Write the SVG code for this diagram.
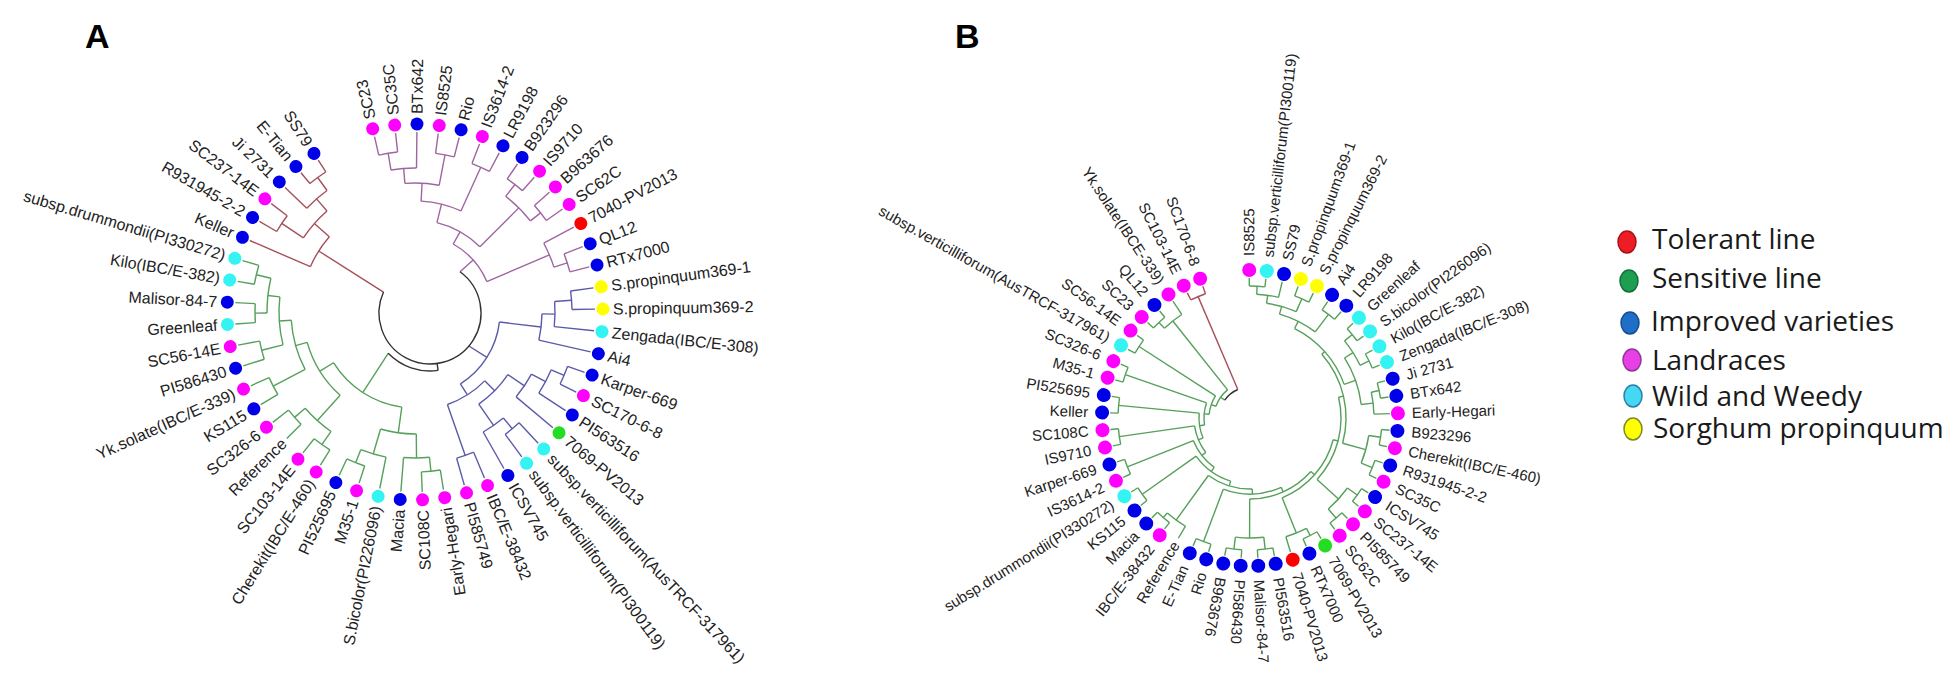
<svg xmlns="http://www.w3.org/2000/svg" width="1950" height="689" viewBox="0 0 1950 689">
<style>
.t text{font-family:"Liberation Sans",Arial,sans-serif;font-size:16px;fill:#222}
.tb text{font-size:15px}
.e{text-anchor:end}
.m{fill:#ff00ff}.b{fill:#0000e8}.c{fill:#33f3f3}.y{fill:#ffff00}.r{fill:#ff0000}.g{fill:#22dd22}
.tr{fill:none;stroke-width:1.4}
.pu{stroke:#a064a0}.rd{stroke:#a5505a}.bl{stroke:#5a5aaa}.gr{stroke:#55a05a}.bk{stroke:#333}
.pl{font-family:"Liberation Sans",Arial,sans-serif;font-size:34px;font-weight:bold;fill:#000}
.lg{font-family:"Open Sans","Liberation Sans",sans-serif;font-size:28px;fill:#1a1a1a}
</style>
<rect width="1950" height="689" fill="#fff"/>
<text class="pl" x="85" y="48">A</text>
<text class="pl" x="955" y="48">B</text>

<g id="connectors">
<g id="connectors-a" transform="translate(415 312)">
<g class="tr pu">
<circle r="161" pathLength="360" stroke-dasharray="6.8 720" transform="rotate(-103)"/>
<line x1="161" x2="180" transform="rotate(-103)"/><line x1="161" x2="180" transform="rotate(-96.2)"/>
<circle r="144" pathLength="360" stroke-dasharray="10.2 720" transform="rotate(-99.6)"/>
<line x1="144" x2="161" transform="rotate(-99.6)"/><line x1="144" x2="180" transform="rotate(-89.4)"/>
<circle r="160" pathLength="360" stroke-dasharray="6.8 720" transform="rotate(-82.6)"/>
<line x1="160" x2="180" transform="rotate(-82.6)"/><line x1="160" x2="180" transform="rotate(-75.8)"/>
<circle r="129" pathLength="360" stroke-dasharray="15.3 720" transform="rotate(-94.5)"/>
<line x1="129" x2="144" transform="rotate(-94.5)"/><line x1="129" x2="160" transform="rotate(-79.2)"/>
<circle r="159" pathLength="360" stroke-dasharray="6.9 720" transform="rotate(-69)"/>
<line x1="159" x2="180" transform="rotate(-69)"/><line x1="159" x2="180" transform="rotate(-62.1)"/>
<circle r="111" pathLength="360" stroke-dasharray="21.3 720" transform="rotate(-86.85)"/>
<line x1="111" x2="129" transform="rotate(-86.85)"/><line x1="111" x2="159" transform="rotate(-65.55)"/>
<circle r="162" pathLength="360" stroke-dasharray="6.8 720" transform="rotate(-55.3)"/>
<line x1="162" x2="180" transform="rotate(-55.3)"/><line x1="162" x2="180" transform="rotate(-48.5)"/>
<circle r="160" pathLength="360" stroke-dasharray="6.8 720" transform="rotate(-41.7)"/>
<line x1="160" x2="180" transform="rotate(-41.7)"/><line x1="160" x2="180" transform="rotate(-34.9)"/>
<circle r="147" pathLength="360" stroke-dasharray="13.6 720" transform="rotate(-51.9)"/>
<line x1="147" x2="162" transform="rotate(-51.9)"/><line x1="147" x2="160" transform="rotate(-38.3)"/>
<circle r="92" pathLength="360" stroke-dasharray="31.1 720" transform="rotate(-76.2)"/>
<line x1="92" x2="111" transform="rotate(-76.2)"/><line x1="92" x2="147" transform="rotate(-45.1)"/>
<circle r="160" pathLength="360" stroke-dasharray="6.8 720" transform="rotate(-21.3)"/>
<line x1="160" x2="180" transform="rotate(-21.3)"/><line x1="160" x2="180" transform="rotate(-14.5)"/>
<circle r="146" pathLength="360" stroke-dasharray="10.2 720" transform="rotate(-28.1)"/>
<line x1="146" x2="180" transform="rotate(-28.1)"/><line x1="146" x2="160" transform="rotate(-17.9)"/>
<circle r="78" pathLength="360" stroke-dasharray="37.65 720" transform="rotate(-60.65)"/>
<line x1="78" x2="92" transform="rotate(-60.65)"/><line x1="78" x2="146" transform="rotate(-23)"/>
<line x1="60.4" x2="78" transform="rotate(-41.8)"/>
</g>
<g class="tr rd">
<circle r="166" pathLength="360" stroke-dasharray="6.8 720" transform="rotate(230.7)"/>
<line x1="166" x2="180" transform="rotate(230.7)"/><line x1="166" x2="180" transform="rotate(237.5)"/>
<circle r="150" pathLength="360" stroke-dasharray="10.3 720" transform="rotate(223.8)"/>
<line x1="150" x2="166" transform="rotate(234.1)"/><line x1="150" x2="180" transform="rotate(223.8)"/>
<circle r="160" pathLength="360" stroke-dasharray="6.8 720" transform="rotate(210.2)"/>
<line x1="160" x2="180" transform="rotate(210.2)"/><line x1="160" x2="180" transform="rotate(217)"/>
<circle r="134" pathLength="360" stroke-dasharray="15.35 720" transform="rotate(213.6)"/>
<line x1="134" x2="150" transform="rotate(228.95)"/><line x1="134" x2="160" transform="rotate(213.6)"/>
<circle r="114" pathLength="360" stroke-dasharray="17.9 720" transform="rotate(203.4)"/>
<line x1="114" x2="134" transform="rotate(221.3)"/><line x1="114" x2="180" transform="rotate(203.4)"/>
<line x1="37.3" x2="114" transform="rotate(212.35)"/>
</g>
<g class="tr bl">
<circle r="157" pathLength="360" stroke-dasharray="6.8 720" transform="rotate(-7.7)"/>
<line x1="157" x2="180" transform="rotate(-7.7)"/><line x1="157" x2="180" transform="rotate(-0.9)"/>
<circle r="140" pathLength="360" stroke-dasharray="10.3 720" transform="rotate(-4.3)"/>
<line x1="140" x2="157" transform="rotate(-4.3)"/><line x1="140" x2="180" transform="rotate(6)"/>
<circle r="127" pathLength="360" stroke-dasharray="11.95 720" transform="rotate(0.85)"/>
<line x1="127" x2="140" transform="rotate(0.85)"/><line x1="127" x2="180" transform="rotate(12.8)"/>
<circle r="162" pathLength="360" stroke-dasharray="6.8 720" transform="rotate(19.6)"/>
<line x1="162" x2="180" transform="rotate(19.6)"/><line x1="162" x2="180" transform="rotate(26.4)"/>
<circle r="148" pathLength="360" stroke-dasharray="10.2 720" transform="rotate(23)"/>
<line x1="148" x2="162" transform="rotate(23)"/><line x1="148" x2="180" transform="rotate(33.2)"/>
<circle r="132" pathLength="360" stroke-dasharray="11.9 720" transform="rotate(28.1)"/>
<line x1="132" x2="148" transform="rotate(28.1)"/><line x1="132" x2="180" transform="rotate(40)"/>
<circle r="152" pathLength="360" stroke-dasharray="6.8 720" transform="rotate(46.8)"/>
<line x1="152" x2="180" transform="rotate(46.8)"/><line x1="152" x2="180" transform="rotate(53.6)"/>
<circle r="138" pathLength="360" stroke-dasharray="10.2 720" transform="rotate(50.2)"/>
<line x1="138" x2="152" transform="rotate(50.2)"/><line x1="138" x2="180" transform="rotate(60.4)"/>
<circle r="112" pathLength="360" stroke-dasharray="21.3 720" transform="rotate(34)"/>
<line x1="112" x2="132" transform="rotate(34)"/><line x1="112" x2="138" transform="rotate(55.3)"/>
<circle r="152" pathLength="360" stroke-dasharray="6.8 720" transform="rotate(67.3)"/>
<line x1="152" x2="180" transform="rotate(67.3)"/><line x1="152" x2="180" transform="rotate(74.1)"/>
<circle r="98" pathLength="360" stroke-dasharray="26.05 720" transform="rotate(44.65)"/>
<line x1="98" x2="112" transform="rotate(44.65)"/><line x1="98" x2="152" transform="rotate(70.7)"/>
<circle r="85" pathLength="360" stroke-dasharray="50.9 720" transform="rotate(6.8)"/>
<line x1="85" x2="127" transform="rotate(6.8)"/><line x1="85" x2="98" transform="rotate(57.7)"/>
<line x1="63.7" x2="85" transform="rotate(32.25)"/>
</g>
<g class="tr gr">
<circle r="163" pathLength="360" stroke-dasharray="6.8 720" transform="rotate(189.8)"/>
<line x1="163" x2="180" transform="rotate(189.8)"/><line x1="163" x2="180" transform="rotate(196.6)"/>
<circle r="160" pathLength="360" stroke-dasharray="6.8 720" transform="rotate(176.2)"/>
<line x1="160" x2="180" transform="rotate(176.2)"/><line x1="160" x2="180" transform="rotate(183)"/>
<circle r="148" pathLength="360" stroke-dasharray="13.6 720" transform="rotate(179.6)"/>
<line x1="148" x2="163" transform="rotate(193.2)"/><line x1="148" x2="160" transform="rotate(179.6)"/>
<circle r="158" pathLength="360" stroke-dasharray="6.8 720" transform="rotate(162.6)"/>
<line x1="158" x2="180" transform="rotate(162.6)"/><line x1="158" x2="180" transform="rotate(169.4)"/>
<circle r="136" pathLength="360" stroke-dasharray="20.4 720" transform="rotate(166)"/>
<line x1="136" x2="148" transform="rotate(186.4)"/><line x1="136" x2="158" transform="rotate(166)"/>
<circle r="160" pathLength="360" stroke-dasharray="6.8 720" transform="rotate(149)"/>
<line x1="160" x2="180" transform="rotate(149)"/><line x1="160" x2="180" transform="rotate(155.8)"/>
<circle r="124" pathLength="360" stroke-dasharray="23.8 720" transform="rotate(152.4)"/>
<line x1="124" x2="136" transform="rotate(176.2)"/><line x1="124" x2="160" transform="rotate(152.4)"/>
<circle r="160" pathLength="360" stroke-dasharray="6.8 720" transform="rotate(135.4)"/>
<line x1="160" x2="180" transform="rotate(135.4)"/><line x1="160" x2="180" transform="rotate(142.2)"/>
<circle r="162" pathLength="360" stroke-dasharray="6.8 720" transform="rotate(121.7)"/>
<line x1="162" x2="180" transform="rotate(121.7)"/><line x1="162" x2="180" transform="rotate(128.5)"/>
<circle r="146" pathLength="360" stroke-dasharray="13.7 720" transform="rotate(125.1)"/>
<line x1="146" x2="160" transform="rotate(138.8)"/><line x1="146" x2="162" transform="rotate(125.1)"/>
<circle r="112" pathLength="360" stroke-dasharray="32.35 720" transform="rotate(131.95)"/>
<line x1="112" x2="124" transform="rotate(164.3)"/><line x1="112" x2="146" transform="rotate(131.95)"/>
<circle r="162" pathLength="360" stroke-dasharray="6.8 720" transform="rotate(108.1)"/>
<line x1="162" x2="180" transform="rotate(108.1)"/><line x1="162" x2="180" transform="rotate(114.9)"/>
<circle r="148" pathLength="360" stroke-dasharray="10.2 720" transform="rotate(101.3)"/>
<line x1="148" x2="162" transform="rotate(111.5)"/><line x1="148" x2="180" transform="rotate(101.3)"/>
<circle r="160" pathLength="360" stroke-dasharray="6.8 720" transform="rotate(80.9)"/>
<line x1="160" x2="180" transform="rotate(80.9)"/><line x1="160" x2="180" transform="rotate(87.7)"/>
<circle r="146" pathLength="360" stroke-dasharray="10.2 720" transform="rotate(84.3)"/>
<line x1="146" x2="180" transform="rotate(94.5)"/><line x1="146" x2="160" transform="rotate(84.3)"/>
<circle r="122" pathLength="360" stroke-dasharray="17 720" transform="rotate(89.4)"/>
<line x1="122" x2="148" transform="rotate(106.4)"/><line x1="122" x2="146" transform="rotate(89.4)"/>
<circle r="96" pathLength="360" stroke-dasharray="50.2 720" transform="rotate(97.9)"/>
<line x1="96" x2="112" transform="rotate(148.1)"/><line x1="96" x2="122" transform="rotate(97.9)"/>
<line x1="49.2" x2="96" transform="rotate(123)"/>
</g>
</g>
<g id="connectors-a-root" class="tr bk">
<path d="M383.5,292 A51,51 0 1 0 460,271.7"/>
<path d="M388.2,353.3 A58,58 0 0 0 438.1,370.4"/>
<line x1="437.1" y1="363.5" x2="438.1" y2="370.4"/>
</g>

<g id="connectors-b" transform="translate(1250 418)">
<g class="tr gr">
<circle r="132" pathLength="360" stroke-dasharray="6.8 720" transform="rotate(-90.3)"/>
<line x1="132" x2="140" transform="rotate(-90.3)"/><line x1="132" x2="140" transform="rotate(-83.5)"/>
<circle r="124" pathLength="360" stroke-dasharray="10.2 720" transform="rotate(-86.9)"/>
<line x1="124" x2="132" transform="rotate(-86.9)"/><line x1="124" x2="140" transform="rotate(-76.7)"/>
<circle r="130" pathLength="360" stroke-dasharray="6.8 720" transform="rotate(-69.9)"/>
<line x1="130" x2="140" transform="rotate(-69.9)"/><line x1="130" x2="140" transform="rotate(-63.1)"/>
<circle r="116" pathLength="360" stroke-dasharray="15.3 720" transform="rotate(-81.8)"/>
<line x1="116" x2="124" transform="rotate(-81.8)"/><line x1="116" x2="130" transform="rotate(-66.5)"/>
<circle r="130" pathLength="360" stroke-dasharray="6.9 720" transform="rotate(-56.3)"/>
<line x1="130" x2="140" transform="rotate(-56.3)"/><line x1="130" x2="140" transform="rotate(-49.4)"/>
<circle r="108" pathLength="360" stroke-dasharray="21.3 720" transform="rotate(-74.15)"/>
<line x1="108" x2="116" transform="rotate(-74.15)"/><line x1="108" x2="130" transform="rotate(-52.85)"/>
<circle r="132" pathLength="360" stroke-dasharray="6.8 720" transform="rotate(-42.6)"/>
<line x1="132" x2="140" transform="rotate(-42.6)"/><line x1="132" x2="140" transform="rotate(-35.8)"/>
<circle r="132" pathLength="360" stroke-dasharray="6.8 720" transform="rotate(-29)"/>
<line x1="132" x2="140" transform="rotate(-29)"/><line x1="132" x2="140" transform="rotate(-22.2)"/>
<circle r="122" pathLength="360" stroke-dasharray="13.6 720" transform="rotate(-39.2)"/>
<line x1="122" x2="132" transform="rotate(-39.2)"/><line x1="122" x2="132" transform="rotate(-25.6)"/>
<circle r="132" pathLength="360" stroke-dasharray="6.8 720" transform="rotate(-15.4)"/>
<line x1="132" x2="140" transform="rotate(-15.4)"/><line x1="132" x2="140" transform="rotate(-8.6)"/>
<circle r="124" pathLength="360" stroke-dasharray="10.2 720" transform="rotate(-12)"/>
<line x1="124" x2="132" transform="rotate(-12)"/><line x1="124" x2="140" transform="rotate(-1.8)"/>
<circle r="112" pathLength="360" stroke-dasharray="25.5 720" transform="rotate(-32.4)"/>
<line x1="112" x2="122" transform="rotate(-32.4)"/><line x1="112" x2="124" transform="rotate(-6.9)"/>
<circle r="100" pathLength="360" stroke-dasharray="43.85 720" transform="rotate(-63.5)"/>
<line x1="100" x2="108" transform="rotate(-63.5)"/><line x1="100" x2="112" transform="rotate(-19.65)"/>
<circle r="132" pathLength="360" stroke-dasharray="6.8 720" transform="rotate(5)"/>
<line x1="132" x2="140" transform="rotate(5)"/><line x1="132" x2="140" transform="rotate(11.8)"/>
<circle r="132" pathLength="360" stroke-dasharray="6.8 720" transform="rotate(18.7)"/>
<line x1="132" x2="140" transform="rotate(18.7)"/><line x1="132" x2="140" transform="rotate(25.5)"/>
<circle r="120" pathLength="360" stroke-dasharray="13.7 720" transform="rotate(8.4)"/>
<line x1="120" x2="132" transform="rotate(8.4)"/><line x1="120" x2="132" transform="rotate(22.1)"/>
<circle r="132" pathLength="360" stroke-dasharray="6.8 720" transform="rotate(32.3)"/>
<line x1="132" x2="140" transform="rotate(32.3)"/><line x1="132" x2="140" transform="rotate(39.1)"/>
<circle r="132" pathLength="360" stroke-dasharray="6.8 720" transform="rotate(45.9)"/>
<line x1="132" x2="140" transform="rotate(45.9)"/><line x1="132" x2="140" transform="rotate(52.7)"/>
<circle r="120" pathLength="360" stroke-dasharray="13.6 720" transform="rotate(35.7)"/>
<line x1="120" x2="132" transform="rotate(35.7)"/><line x1="120" x2="132" transform="rotate(49.3)"/>
<circle r="132" pathLength="360" stroke-dasharray="6.8 720" transform="rotate(59.5)"/>
<line x1="132" x2="140" transform="rotate(59.5)"/><line x1="132" x2="140" transform="rotate(66.3)"/>
<circle r="124" pathLength="360" stroke-dasharray="10.3 720" transform="rotate(62.9)"/>
<line x1="124" x2="132" transform="rotate(62.9)"/><line x1="124" x2="140" transform="rotate(73.2)"/>
<circle r="132" pathLength="360" stroke-dasharray="6.8 720" transform="rotate(80)"/>
<line x1="132" x2="140" transform="rotate(80)"/><line x1="132" x2="140" transform="rotate(86.8)"/>
<circle r="132" pathLength="360" stroke-dasharray="6.8 720" transform="rotate(93.6)"/>
<line x1="132" x2="140" transform="rotate(93.6)"/><line x1="132" x2="140" transform="rotate(100.4)"/>
<circle r="120" pathLength="360" stroke-dasharray="13.6 720" transform="rotate(83.4)"/>
<line x1="120" x2="132" transform="rotate(83.4)"/><line x1="120" x2="132" transform="rotate(97)"/>
<circle r="132" pathLength="360" stroke-dasharray="6.8 720" transform="rotate(107.2)"/>
<line x1="132" x2="140" transform="rotate(107.2)"/><line x1="132" x2="140" transform="rotate(114)"/>
<circle r="96" pathLength="360" stroke-dasharray="56.85 720" transform="rotate(-41.6)"/>
<line x1="96" x2="100" transform="rotate(-41.6)"/><line x1="96" x2="120" transform="rotate(15.25)"/>
<circle r="91" pathLength="360" stroke-dasharray="55.7 720" transform="rotate(-13.2)"/>
<line x1="91" x2="96" transform="rotate(-13.2)"/><line x1="91" x2="120" transform="rotate(42.5)"/>
<circle r="86" pathLength="360" stroke-dasharray="53.4 720" transform="rotate(14.65)"/>
<line x1="86" x2="91" transform="rotate(14.65)"/><line x1="86" x2="124" transform="rotate(68.05)"/>
<circle r="81" pathLength="360" stroke-dasharray="48.85 720" transform="rotate(41.35)"/>
<line x1="81" x2="86" transform="rotate(41.35)"/><line x1="81" x2="120" transform="rotate(90.2)"/>
<circle r="76" pathLength="360" stroke-dasharray="44.8 720" transform="rotate(65.8)"/>
<line x1="76" x2="81" transform="rotate(65.8)"/><line x1="76" x2="132" transform="rotate(110.6)"/>
<circle r="132" pathLength="360" stroke-dasharray="6.9 720" transform="rotate(127.6)"/>
<line x1="132" x2="140" transform="rotate(127.6)"/><line x1="132" x2="140" transform="rotate(134.5)"/>
<circle r="126" pathLength="360" stroke-dasharray="10.25 720" transform="rotate(120.8)"/>
<line x1="126" x2="140" transform="rotate(120.8)"/><line x1="126" x2="132" transform="rotate(131.05)"/>
<circle r="71" pathLength="360" stroke-dasharray="37.7 720" transform="rotate(88.2)"/>
<line x1="71" x2="76" transform="rotate(88.2)"/><line x1="71" x2="126" transform="rotate(125.9)"/>
<circle r="132" pathLength="360" stroke-dasharray="6.8 720" transform="rotate(141.3)"/>
<line x1="132" x2="140" transform="rotate(141.3)"/><line x1="132" x2="140" transform="rotate(148.1)"/>
<circle r="66" pathLength="360" stroke-dasharray="37.65 720" transform="rotate(107.05)"/>
<line x1="66" x2="71" transform="rotate(107.05)"/><line x1="66" x2="132" transform="rotate(144.7)"/>
<circle r="132" pathLength="360" stroke-dasharray="6.8 720" transform="rotate(154.9)"/>
<line x1="132" x2="140" transform="rotate(154.9)"/><line x1="132" x2="140" transform="rotate(161.7)"/>
<circle r="61" pathLength="360" stroke-dasharray="32.4 720" transform="rotate(125.9)"/>
<line x1="61" x2="66" transform="rotate(125.9)"/><line x1="61" x2="132" transform="rotate(158.3)"/>
<circle r="132" pathLength="360" stroke-dasharray="6.8 720" transform="rotate(168.5)"/>
<line x1="132" x2="140" transform="rotate(168.5)"/><line x1="132" x2="140" transform="rotate(175.3)"/>
<circle r="56" pathLength="360" stroke-dasharray="29.8 720" transform="rotate(142.1)"/>
<line x1="56" x2="61" transform="rotate(142.1)"/><line x1="56" x2="132" transform="rotate(171.9)"/>
<circle r="132" pathLength="360" stroke-dasharray="6.8 720" transform="rotate(182.1)"/>
<line x1="132" x2="140" transform="rotate(182.1)"/><line x1="132" x2="140" transform="rotate(188.9)"/>
<circle r="51" pathLength="360" stroke-dasharray="28.5 720" transform="rotate(157)"/>
<line x1="51" x2="56" transform="rotate(157)"/><line x1="51" x2="132" transform="rotate(185.5)"/>
<circle r="132" pathLength="360" stroke-dasharray="6.8 720" transform="rotate(195.8)"/>
<line x1="132" x2="140" transform="rotate(195.8)"/><line x1="132" x2="140" transform="rotate(202.6)"/>
<circle r="46" pathLength="360" stroke-dasharray="27.95 720" transform="rotate(171.25)"/>
<line x1="46" x2="51" transform="rotate(171.25)"/><line x1="46" x2="132" transform="rotate(199.2)"/>
<circle r="132" pathLength="360" stroke-dasharray="6.8 720" transform="rotate(209.4)"/>
<line x1="132" x2="140" transform="rotate(209.4)"/><line x1="132" x2="140" transform="rotate(216.2)"/>
<circle r="41" pathLength="360" stroke-dasharray="27.6 720" transform="rotate(185.2)"/>
<line x1="41" x2="46" transform="rotate(185.2)"/><line x1="41" x2="132" transform="rotate(212.8)"/>
<circle r="132" pathLength="360" stroke-dasharray="6.8 720" transform="rotate(223)"/>
<line x1="132" x2="140" transform="rotate(223)"/><line x1="132" x2="140" transform="rotate(229.8)"/>
<circle r="124" pathLength="360" stroke-dasharray="10.2 720" transform="rotate(226.4)"/>
<line x1="124" x2="132" transform="rotate(226.4)"/><line x1="124" x2="140" transform="rotate(236.6)"/>
<circle r="36" pathLength="360" stroke-dasharray="32.5 720" transform="rotate(199)"/>
<line x1="36" x2="41" transform="rotate(199)"/><line x1="36" x2="124" transform="rotate(231.5)"/>
<line x1="31" x2="36" transform="rotate(215.25)"/>
</g>
<g class="tr bk">
<circle r="31" pathLength="360" stroke-dasharray="31.6 720" transform="rotate(215.25)"/>
</g>
<g class="tr rd">
<circle r="132" pathLength="360" stroke-dasharray="6.9 720" transform="rotate(243.4)"/>
<line x1="132" x2="140" transform="rotate(243.4)"/><line x1="132" x2="140" transform="rotate(250.3)"/>
<line x1="31" x2="132" transform="rotate(246.85)"/>
</g>
</g>
</g>

<g id="nodes-a" class="t" transform="translate(415 312)">
<g id="a-SC23" transform="rotate(-103)"><circle class="m" cx="188" r="6.5"/><text x="198" y="5.5">SC23</text></g>
<g id="a-SC35C" transform="rotate(-96.2)"><circle class="m" cx="188" r="6.5"/><text x="198" y="5.5">SC35C</text></g>
<g id="a-BTx642" transform="rotate(-89.4)"><circle class="b" cx="188" r="6.5"/><text x="198" y="5.5">BTx642</text></g>
<g id="a-IS8525" transform="rotate(-82.6)"><circle class="m" cx="188" r="6.5"/><text x="198" y="5.5">IS8525</text></g>
<g id="a-Rio" transform="rotate(-75.8)"><circle class="b" cx="188" r="6.5"/><text x="198" y="5.5">Rio</text></g>
<g id="a-IS3614-2" transform="rotate(-69)"><circle class="m" cx="188" r="6.5"/><text x="198" y="5.5">IS3614-2</text></g>
<g id="a-LR9198" transform="rotate(-62.1)"><circle class="b" cx="188" r="6.5"/><text x="198" y="5.5">LR9198</text></g>
<g id="a-B923296" transform="rotate(-55.3)"><circle class="b" cx="188" r="6.5"/><text x="198" y="5.5">B923296</text></g>
<g id="a-IS9710" transform="rotate(-48.5)"><circle class="m" cx="188" r="6.5"/><text x="198" y="5.5">IS9710</text></g>
<g id="a-B963676" transform="rotate(-41.7)"><circle class="m" cx="188" r="6.5"/><text x="198" y="5.5">B963676</text></g>
<g id="a-SC62C" transform="rotate(-34.9)"><circle class="m" cx="188" r="6.5"/><text x="198" y="5.5">SC62C</text></g>
<g id="a-7040-PV2013" transform="rotate(-28.1)"><circle class="r" cx="188" r="6.5"/><text x="198" y="5.5">7040-PV2013</text></g>
<g id="a-QL12" transform="rotate(-21.3)"><circle class="b" cx="188" r="6.5"/><text x="198" y="5.5">QL12</text></g>
<g id="a-RTx7000" transform="rotate(-14.5)"><circle class="b" cx="188" r="6.5"/><text x="198" y="5.5">RTx7000</text></g>
<g id="a-Sprop1" transform="rotate(-7.7)"><circle class="y" cx="188" r="6.5"/><text x="198" y="5.5">S.propinquum369-1</text></g>
<g id="a-Sprop2" transform="rotate(-0.9)"><circle class="y" cx="188" r="6.5"/><text x="198" y="5.5">S.propinquum369-2</text></g>
<g id="a-Zengada" transform="rotate(6)"><circle class="c" cx="188" r="6.5"/><text x="198" y="5.5">Zengada(IBC/E-308)</text></g>
<g id="a-Ai4" transform="rotate(12.8)"><circle class="b" cx="188" r="6.5"/><text x="198" y="5.5">Ai4</text></g>
<g id="a-Karper-669" transform="rotate(19.6)"><circle class="b" cx="188" r="6.5"/><text x="198" y="5.5">Karper-669</text></g>
<g id="a-SC170-6-8" transform="rotate(26.4)"><circle class="m" cx="188" r="6.5"/><text x="198" y="5.5">SC170-6-8</text></g>
<g id="a-PI563516" transform="rotate(33.2)"><circle class="b" cx="188" r="6.5"/><text x="198" y="5.5">PI563516</text></g>
<g id="a-7069-PV2013" transform="rotate(40)"><circle class="g" cx="188" r="6.5"/><text x="198" y="5.5">7069-PV2013</text></g>
<g id="a-AusTRCF" transform="rotate(46.8)"><circle class="c" cx="188" r="6.5"/><text x="198" y="5.5">subsp.verticilliforum(AusTRCF-317961)</text></g>
<g id="a-PI300119" transform="rotate(53.6)"><circle class="c" cx="188" r="6.5"/><text x="198" y="5.5">subsp.verticilliforum(PI300119)</text></g>
<g id="a-ICSV745" transform="rotate(60.4)"><circle class="b" cx="188" r="6.5"/><text x="198" y="5.5">ICSV745</text></g>
<g id="a-IBCE-38432" transform="rotate(67.3)"><circle class="m" cx="188" r="6.5"/><text x="198" y="5.5">IBC/E-38432</text></g>
<g id="a-PI585749" transform="rotate(74.1)"><circle class="m" cx="188" r="6.5"/><text x="198" y="5.5">PI585749</text></g>
<g id="a-Early-Hegari" transform="rotate(-99.1)"><circle class="m" cx="-188" r="6.5"/><text class="e" x="-198" y="5.5">Early-Hegari</text></g>
<g id="a-SC108C" transform="rotate(-92.3)"><circle class="m" cx="-188" r="6.5"/><text class="e" x="-198" y="5.5">SC108C</text></g>
<g id="a-Macia" transform="rotate(-85.5)"><circle class="b" cx="-188" r="6.5"/><text class="e" x="-198" y="5.5">Macia</text></g>
<g id="a-Sbicolor" transform="rotate(-78.7)"><circle class="c" cx="-188" r="6.5"/><text class="e" x="-198" y="5.5">S.bicolor(PI226096)</text></g>
<g id="a-M35-1" transform="rotate(-71.9)"><circle class="m" cx="-188" r="6.5"/><text class="e" x="-198" y="5.5">M35-1</text></g>
<g id="a-PI525695" transform="rotate(-65.1)"><circle class="b" cx="-188" r="6.5"/><text class="e" x="-198" y="5.5">PI525695</text></g>
<g id="a-Cherekit" transform="rotate(-58.3)"><circle class="m" cx="-188" r="6.5"/><text class="e" x="-198" y="5.5">Cherekit(IBC/E-460)</text></g>
<g id="a-SC103-14E" transform="rotate(-51.5)"><circle class="m" cx="-188" r="6.5"/><text class="e" x="-198" y="5.5">SC103-14E</text></g>
<g id="a-Reference" transform="rotate(-44.6)"><text class="e" x="-184" y="5.5">Reference</text></g>
<g id="a-SC326-6" transform="rotate(-37.8)"><circle class="m" cx="-188" r="6.5"/><text class="e" x="-198" y="5.5">SC326-6</text></g>
<g id="a-KS115" transform="rotate(-31)"><circle class="b" cx="-188" r="6.5"/><text class="e" x="-198" y="5.5">KS115</text></g>
<g id="a-Yk" transform="rotate(-24.2)"><circle class="m" cx="-188" r="6.5"/><text class="e" x="-198" y="5.5">Yk.solate(IBC/E-339)</text></g>
<g id="a-PI586430" transform="rotate(-17.4)"><circle class="b" cx="-188" r="6.5"/><text class="e" x="-198" y="5.5">PI586430</text></g>
<g id="a-SC56-14E" transform="rotate(-10.6)"><circle class="m" cx="-188" r="6.5"/><text class="e" x="-198" y="5.5">SC56-14E</text></g>
<g id="a-Greenleaf" transform="rotate(-3.8)"><circle class="c" cx="-188" r="6.5"/><text class="e" x="-198" y="5.5">Greenleaf</text></g>
<g id="a-Malisor" transform="rotate(3)"><circle class="b" cx="-188" r="6.5"/><text class="e" x="-198" y="5.5">Malisor-84-7</text></g>
<g id="a-Kilo" transform="rotate(9.8)"><circle class="c" cx="-188" r="6.5"/><text class="e" x="-198" y="5.5">Kilo(IBC/E-382)</text></g>
<g id="a-drummondii" transform="rotate(16.6)"><circle class="c" cx="-188" r="6.5"/><text class="e" x="-198" y="5.5">subsp.drummondii(PI330272)</text></g>
<g id="a-Keller" transform="rotate(23.4)"><circle class="b" cx="-188" r="6.5"/><text class="e" x="-198" y="5.5">Keller</text></g>
<g id="a-R931945" transform="rotate(30.2)"><circle class="b" cx="-188" r="6.5"/><text class="e" x="-198" y="5.5">R931945-2-2</text></g>
<g id="a-SC237-14E" transform="rotate(37)"><circle class="m" cx="-188" r="6.5"/><text class="e" x="-198" y="5.5">SC237-14E</text></g>
<g id="a-Ji2731" transform="rotate(43.8)"><circle class="b" cx="-188" r="6.5"/><text class="e" x="-198" y="5.5">Ji 2731</text></g>
<g id="a-E-Tian" transform="rotate(50.7)"><circle class="b" cx="-188" r="6.5"/><text class="e" x="-198" y="5.5">E-Tian</text></g>
<g id="a-SS79" transform="rotate(57.5)"><circle class="b" cx="-188" r="6.5"/><text class="e" x="-198" y="5.5">SS79</text></g>
</g>

<g id="nodes-b" class="t tb" transform="translate(1250 418)">
<g id="b-IS8525" transform="rotate(-90.3)"><circle class="m" cx="148" r="7"/><text x="162" y="5.2">IS8525</text></g>
<g id="b-PI300119" transform="rotate(-83.5)"><circle class="c" cx="148" r="7"/><text x="162" y="5.2">subsp.verticilliforum(PI300119)</text></g>
<g id="b-SS79" transform="rotate(-76.7)"><circle class="b" cx="148" r="7"/><text x="162" y="5.2">SS79</text></g>
<g id="b-Sprop1" transform="rotate(-69.9)"><circle class="y" cx="148" r="7"/><text x="162" y="5.2">S.propinquum369-1</text></g>
<g id="b-Sprop2" transform="rotate(-63.1)"><circle class="y" cx="148" r="7"/><text x="162" y="5.2">S.propinquum369-2</text></g>
<g id="b-Ai4" transform="rotate(-56.3)"><circle class="b" cx="148" r="7"/><text x="162" y="5.2">Ai4</text></g>
<g id="b-LR9198" transform="rotate(-49.4)"><circle class="b" cx="148" r="7"/><text x="162" y="5.2">LR9198</text></g>
<g id="b-Greenleaf" transform="rotate(-42.6)"><circle class="c" cx="148" r="7"/><text x="162" y="5.2">Greenleaf</text></g>
<g id="b-Sbicolor" transform="rotate(-35.8)"><circle class="c" cx="148" r="7"/><text x="162" y="5.2">S.bicolor(PI226096)</text></g>
<g id="b-Kilo" transform="rotate(-29)"><circle class="c" cx="148" r="7"/><text x="162" y="5.2">Kilo(IBC/E-382)</text></g>
<g id="b-Zengada" transform="rotate(-22.2)"><circle class="c" cx="148" r="7"/><text x="162" y="5.2">Zengada(IBC/E-308)</text></g>
<g id="b-Ji2731" transform="rotate(-15.4)"><circle class="b" cx="148" r="7"/><text x="162" y="5.2">Ji 2731</text></g>
<g id="b-BTx642" transform="rotate(-8.6)"><circle class="b" cx="148" r="7"/><text x="162" y="5.2">BTx642</text></g>
<g id="b-Early-Hegari" transform="rotate(-1.8)"><circle class="m" cx="148" r="7"/><text x="162" y="5.2">Early-Hegari</text></g>
<g id="b-B923296" transform="rotate(5)"><circle class="b" cx="148" r="7"/><text x="162" y="5.2">B923296</text></g>
<g id="b-Cherekit" transform="rotate(11.8)"><circle class="m" cx="148" r="7"/><text x="162" y="5.2">Cherekit(IBC/E-460)</text></g>
<g id="b-R931945" transform="rotate(18.7)"><circle class="b" cx="148" r="7"/><text x="162" y="5.2">R931945-2-2</text></g>
<g id="b-SC35C" transform="rotate(25.5)"><circle class="m" cx="148" r="7"/><text x="162" y="5.2">SC35C</text></g>
<g id="b-ICSV745" transform="rotate(32.3)"><circle class="b" cx="148" r="7"/><text x="162" y="5.2">ICSV745</text></g>
<g id="b-SC237-14E" transform="rotate(39.1)"><circle class="m" cx="148" r="7"/><text x="162" y="5.2">SC237-14E</text></g>
<g id="b-PI585749" transform="rotate(45.9)"><circle class="m" cx="148" r="7"/><text x="162" y="5.2">PI585749</text></g>
<g id="b-SC62C" transform="rotate(52.7)"><circle class="m" cx="148" r="7"/><text x="162" y="5.2">SC62C</text></g>
<g id="b-7069-PV2013" transform="rotate(59.5)"><circle class="g" cx="148" r="7"/><text x="162" y="5.2">7069-PV2013</text></g>
<g id="b-RTx7000" transform="rotate(66.3)"><circle class="b" cx="148" r="7"/><text x="162" y="5.2">RTx7000</text></g>
<g id="b-7040-PV2013" transform="rotate(73.2)"><circle class="r" cx="148" r="7"/><text x="162" y="5.2">7040-PV2013</text></g>
<g id="b-PI563516" transform="rotate(80)"><circle class="b" cx="148" r="7"/><text x="162" y="5.2">PI563516</text></g>
<g id="b-Malisor" transform="rotate(86.8)"><circle class="b" cx="148" r="7"/><text x="162" y="5.2">Malisor-84-7</text></g>
<g id="b-PI586430" transform="rotate(93.6)"><circle class="b" cx="148" r="7"/><text x="162" y="5.2">PI586430</text></g>
<g id="b-B963676" transform="rotate(100.4)"><circle class="b" cx="148" r="7"/><text x="162" y="5.2">B963676</text></g>
<g id="b-Rio" transform="rotate(-72.8)"><circle class="b" cx="-148" r="7"/><text class="e" x="-162" y="5.2">Rio</text></g>
<g id="b-E-Tian" transform="rotate(-66)"><circle class="b" cx="-148" r="7"/><text class="e" x="-162" y="5.2">E-Tian</text></g>
<g id="b-Reference" transform="rotate(-59.2)"><text class="e" x="-145" y="5.2">Reference</text></g>
<g id="b-IBCE-38432" transform="rotate(-52.4)"><circle class="m" cx="-148" r="7"/><text class="e" x="-162" y="5.2">IBC/E-38432</text></g>
<g id="b-Macia" transform="rotate(-45.5)"><circle class="b" cx="-148" r="7"/><text class="e" x="-162" y="5.2">Macia</text></g>
<g id="b-KS115" transform="rotate(-38.7)"><circle class="b" cx="-148" r="7"/><text class="e" x="-162" y="5.2">KS115</text></g>
<g id="b-drummondii" transform="rotate(-31.9)"><circle class="c" cx="-148" r="7"/><text class="e" x="-162" y="5.2">subsp.drummondii(PI330272)</text></g>
<g id="b-IS3614-2" transform="rotate(-25.1)"><circle class="m" cx="-148" r="7"/><text class="e" x="-162" y="5.2">IS3614-2</text></g>
<g id="b-Karper-669" transform="rotate(-18.3)"><circle class="b" cx="-148" r="7"/><text class="e" x="-162" y="5.2">Karper-669</text></g>
<g id="b-IS9710" transform="rotate(-11.5)"><circle class="m" cx="-148" r="7"/><text class="e" x="-162" y="5.2">IS9710</text></g>
<g id="b-SC108C" transform="rotate(-4.7)"><circle class="m" cx="-148" r="7"/><text class="e" x="-162" y="5.2">SC108C</text></g>
<g id="b-Keller" transform="rotate(2.1)"><circle class="b" cx="-148" r="7"/><text class="e" x="-162" y="5.2">Keller</text></g>
<g id="b-PI525695" transform="rotate(8.9)"><circle class="b" cx="-148" r="7"/><text class="e" x="-162" y="5.2">PI525695</text></g>
<g id="b-M35-1" transform="rotate(15.8)"><circle class="m" cx="-148" r="7"/><text class="e" x="-162" y="5.2">M35-1</text></g>
<g id="b-SC326-6" transform="rotate(22.6)"><circle class="m" cx="-148" r="7"/><text class="e" x="-162" y="5.2">SC326-6</text></g>
<g id="b-AusTRCF" transform="rotate(29.4)"><circle class="c" cx="-148" r="7"/><text class="e" x="-162" y="5.2">subsp.verticilliforum(AusTRCF-317961)</text></g>
<g id="b-SC56-14E" transform="rotate(36.2)"><circle class="m" cx="-148" r="7"/><text class="e" x="-162" y="5.2">SC56-14E</text></g>
<g id="b-SC23" transform="rotate(43)"><circle class="m" cx="-148" r="7"/><text class="e" x="-162" y="5.2">SC23</text></g>
<g id="b-QL12" transform="rotate(49.8)"><circle class="b" cx="-148" r="7"/><text class="e" x="-162" y="5.2">QL12</text></g>
<g id="b-Yk" transform="rotate(56.6)"><circle class="m" cx="-148" r="7"/><text class="e" x="-162" y="5.2">Yk.solate(IBCE-339)</text></g>
<g id="b-SC103-14E" transform="rotate(63.4)"><circle class="m" cx="-148" r="7"/><text class="e" x="-162" y="5.2">SC103-14E</text></g>
<g id="b-SC170-6-8" transform="rotate(70.3)"><circle class="m" cx="-148" r="7"/><text class="e" x="-162" y="5.2">SC170-6-8</text></g>
</g>

<g id="legend">
<g id="leg-tolerant"><ellipse cx="1627" cy="242" rx="9" ry="11" fill="#ee1c24" stroke="#a8141a" stroke-width="1.5"/><text class="lg" x="1652" y="249">Tolerant line</text></g>
<g id="leg-sensitive"><ellipse cx="1629" cy="281" rx="9" ry="11" fill="#1e9e50" stroke="#156e38" stroke-width="1.5"/><text class="lg" x="1652" y="288">Sensitive line</text></g>
<g id="leg-improved"><ellipse cx="1630" cy="323" rx="9" ry="11" fill="#1f6fc8" stroke="#164f90" stroke-width="1.5"/><text class="lg" x="1651" y="331">Improved varieties</text></g>
<g id="leg-landraces"><ellipse cx="1632" cy="360" rx="9" ry="11" fill="#e640e6" stroke="#8a3a9a" stroke-width="1.5"/><text class="lg" x="1652" y="370">Landraces</text></g>
<g id="leg-wild"><ellipse cx="1633" cy="396" rx="9" ry="11" fill="#44d8f2" stroke="#2a7fb0" stroke-width="1.5"/><text class="lg" x="1652" y="406">Wild and Weedy</text></g>
<g id="leg-sorghum"><ellipse cx="1633" cy="429" rx="9" ry="11" fill="#ffff00" stroke="#7a8a2a" stroke-width="1.5"/><text class="lg" x="1653" y="438">Sorghum propinquum</text></g>
</g>
</svg>
